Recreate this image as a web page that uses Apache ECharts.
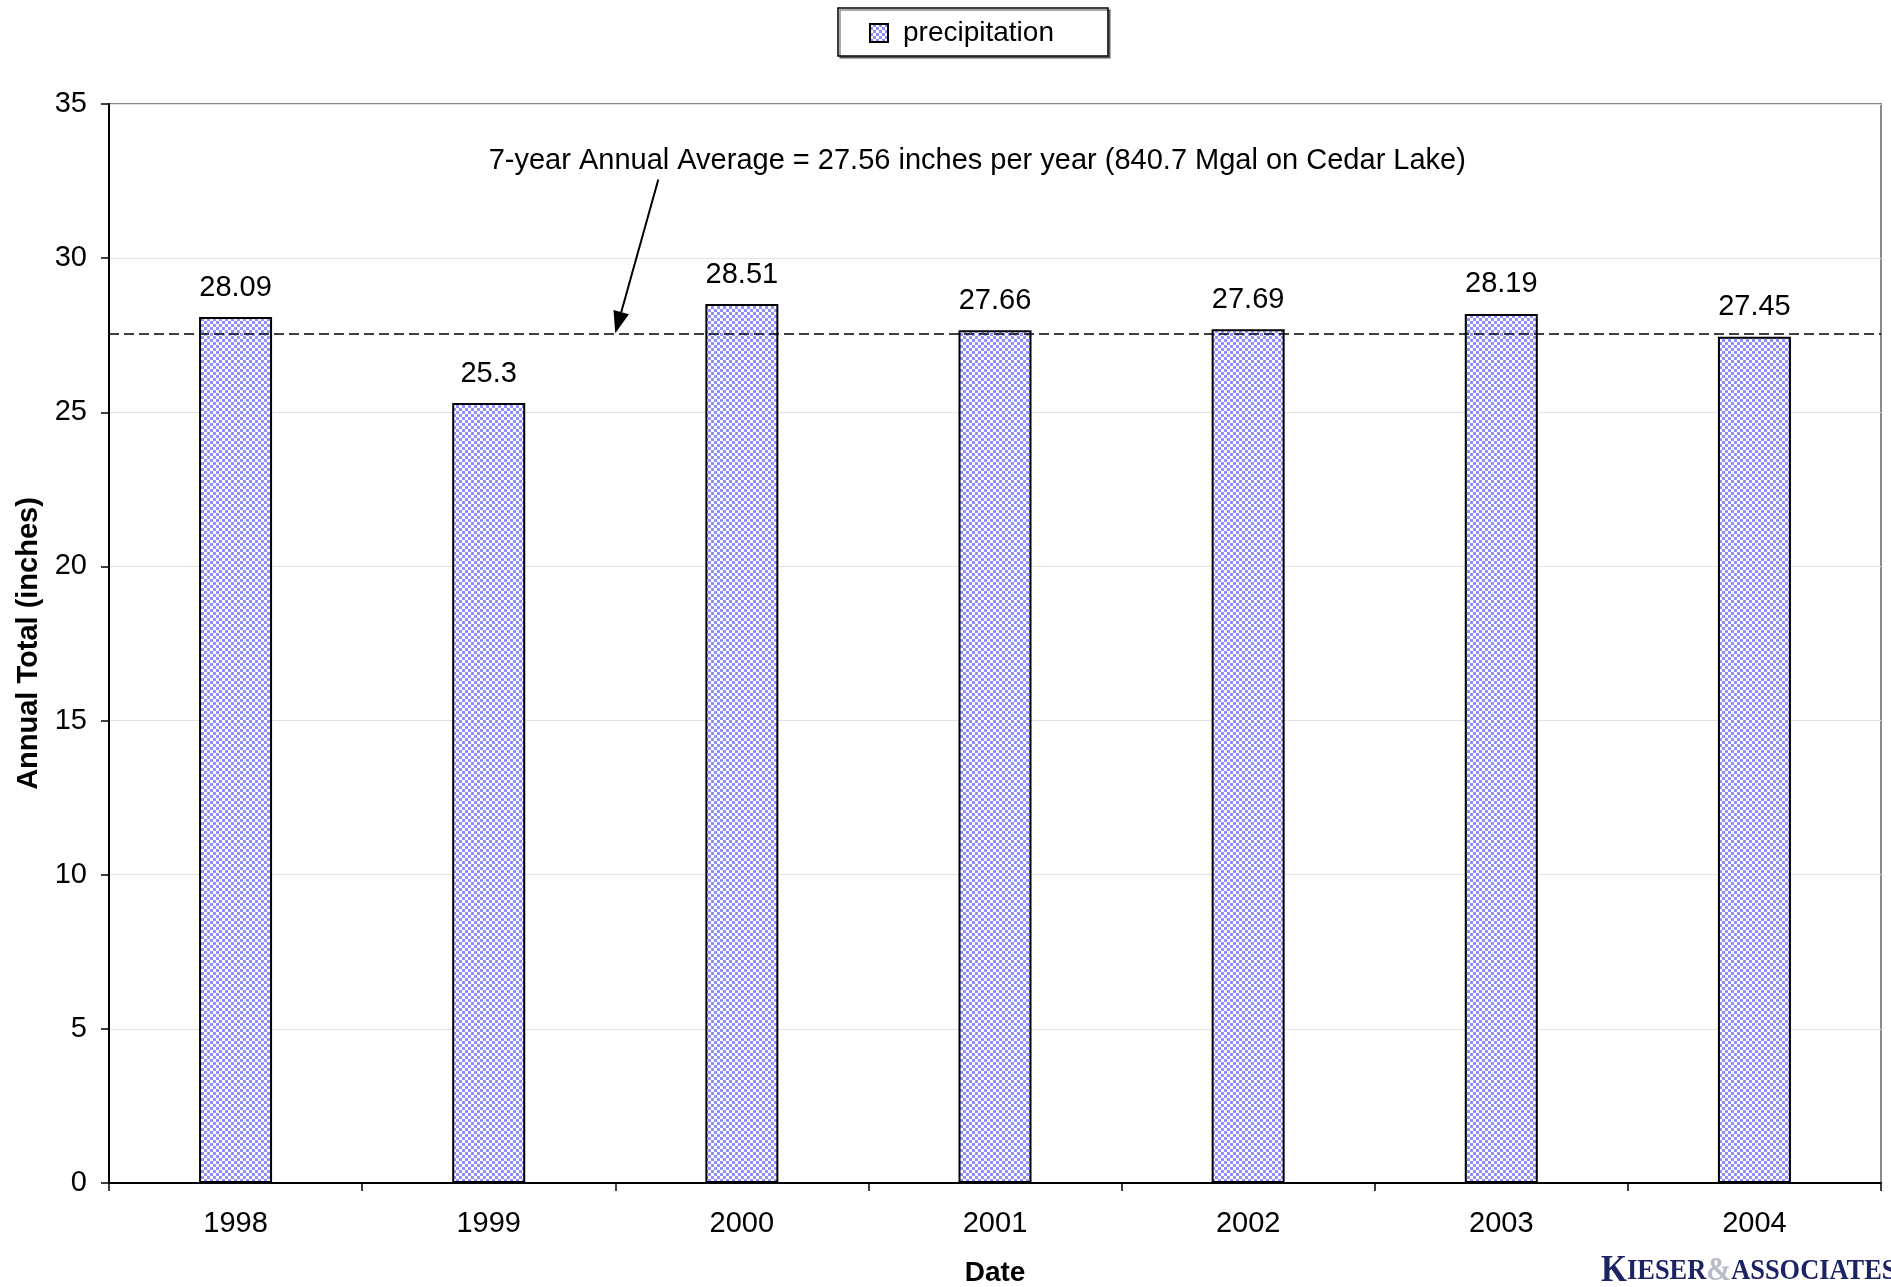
<!DOCTYPE html>
<html>
<head>
<meta charset="utf-8">
<title>Annual precipitation</title>
<script src="https://cdn.jsdelivr.net/npm/echarts@6/dist/echarts.min.js"></script>
<style>
  html, body { margin: 0; padding: 0; background: #fff; }
  #chart { width: 1891px; height: 1287px; }
</style>
</head>
<body>
<div id="chart"></div>
<script>
// Annual precipitation totals (inches)
const years = ['1998', '1999', '2000', '2001', '2002', '2003', '2004'];
const precipitation = [28.09, 25.3, 28.51, 27.66, 27.69, 28.19, 27.45];
const seriesName = 'precipitation';

// Multi-year average shown as a dashed reference line
const averageValue = 27.56;
const averageNote = '7-year Annual Average = 27.56 inches per year (840.7 Mgal on Cedar Lake)';

// Value axis ticks
const yMin = 0, yMax = 35, yStep = 5;

// Annotation anchors in data terms: [category index (fractional), value]
const noteAnchor = [2.93, 33.15];
const arrowStart = [1.67, 32.55];
const arrowTip = [1.5, averageValue];

const FONT = '"Liberation Sans", Arial, Helvetica, sans-serif';
const SERIF = '"Liberation Serif", "DejaVu Serif", serif';

// Checkered blue/white fill used for the bars
function makeChecker() {
  const c = document.createElement('canvas');
  c.width = 6; c.height = 6;
  const g = c.getContext('2d');
  g.fillStyle = '#8f8fff';
  g.fillRect(0, 0, 6, 6);
  g.fillStyle = '#ffffff';
  g.fillRect(0, 0, 3, 3);
  g.fillRect(3, 3, 3, 3);
  return c;
}
const checker = makeChecker();

const chart = echarts.init(document.getElementById('chart'), null, { renderer: 'canvas' });

const option = {
  animation: false,
  backgroundColor: '#ffffff',
  textStyle: { fontFamily: FONT },
  legend: {
    data: [seriesName],
    left: 838,
    top: 8,
    icon: 'rect',
    itemWidth: 18,
    itemHeight: 18,
    padding: [11, 54, 9, 31],
    backgroundColor: '#ffffff',
    borderColor: '#000000',
    borderWidth: 1.5,
    shadowColor: 'rgba(0,0,0,0.45)',
    shadowOffsetX: 2,
    shadowOffsetY: 2,
    shadowBlur: 0,
    selectedMode: false,
    textStyle: { fontSize: 28, color: '#000', fontFamily: FONT, padding: [2, 0, 0, 10] }
  },
  grid: {
    left: 109,
    right: 10,
    top: 104,
    bottom: 104,
    containLabel: false,
    outerBoundsMode: 'none',
    show: true,
    borderColor: '#8a8a8a',
    borderWidth: 2,
    backgroundColor: '#ffffff'
  },
  xAxis: {
    type: 'category',
    data: years,
    name: 'Date',
    nameLocation: 'middle',
    nameGap: 76,
    nameTextStyle: { fontSize: 28, fontWeight: 'bold', color: '#000', fontFamily: FONT },
    axisLine: { lineStyle: { color: '#000', width: 2 } },
    axisTick: { show: true, length: 8, lineStyle: { color: '#000', width: 1.5 } },
    axisLabel: { fontSize: 29, color: '#000', margin: 26, fontFamily: FONT },
    splitLine: { show: false }
  },
  yAxis: {
    type: 'value',
    min: yMin,
    max: yMax,
    interval: yStep,
    name: 'Annual Total (inches)',
    nameLocation: 'middle',
    nameGap: 66,
    nameTextStyle: { fontSize: 29, fontWeight: 'bold', color: '#000', fontFamily: FONT },
    axisLine: { show: true, lineStyle: { color: '#000', width: 2 } },
    axisTick: { show: true, length: 8, lineStyle: { color: '#000', width: 1.5 } },
    axisLabel: { fontSize: 29, color: '#000', margin: 22, fontFamily: FONT },
    splitLine: { show: true, lineStyle: { color: '#e2e2e2', width: 1 } }
  },
  series: [{
    name: seriesName,
    type: 'bar',
    data: precipitation,
    barWidth: 73,
    itemStyle: {
      color: { image: checker, repeat: 'repeat' },
      borderColor: '#000',
      borderWidth: 2
    },
    label: {
      show: true,
      position: 'top',
      distance: 15,
      fontSize: 29,
      lineHeight: 29,
      color: '#000',
      fontFamily: FONT
    },
    markLine: {
      silent: true,
      symbol: 'none',
      label: { show: false },
      lineStyle: { type: [10, 5], color: '#000', width: 1.5 },
      data: [{ yAxis: averageValue }]
    }
  }]
};

chart.setOption(option);

// Convert a [fractional category index, value] pair into pixels
function toPixel(pt) {
  const i0 = Math.floor(pt[0]);
  const frac = pt[0] - i0;
  const a = chart.convertToPixel({ gridIndex: 0 }, [i0, pt[1]]);
  const b = chart.convertToPixel({ gridIndex: 0 }, [i0 + 1, pt[1]]);
  return [a[0] + (b[0] - a[0]) * frac, a[1]];
}

const pNote = toPixel(noteAnchor);
const pStart = toPixel(arrowStart);
const pTip = toPixel(arrowTip);

// Arrowhead geometry
const dx = pTip[0] - pStart[0], dy = pTip[1] - pStart[1];
const len = Math.sqrt(dx * dx + dy * dy);
const ux = dx / len, uy = dy / len;
const headLen = 22, headHalf = 8;
const base = [pTip[0] - ux * headLen, pTip[1] - uy * headLen];
const nx = -uy, ny = ux;

chart.setOption({
  graphic: [
    {
      type: 'text',
      x: pNote[0],
      y: pNote[1],
      z: 100,
      style: {
        text: averageNote,
        font: '29px ' + FONT,
        fill: '#000',
        align: 'center',
        verticalAlign: 'middle'
      }
    },
    {
      type: 'line',
      z: 100,
      shape: { x1: pStart[0], y1: pStart[1], x2: base[0], y2: base[1] },
      style: { stroke: '#000', lineWidth: 2 }
    },
    {
      type: 'polygon',
      z: 100,
      shape: {
        points: [
          [pTip[0], pTip[1]],
          [base[0] + nx * headHalf, base[1] + ny * headHalf],
          [base[0] - nx * headHalf, base[1] - ny * headHalf]
        ]
      },
      style: { fill: '#000' }
    },
    {
      // company mark, bottom right corner
      type: 'text',
      x: 1601,
      y: 1290,
      z: 100,
      scaleX: 0.88,
      style: {
        text: '{k|K}{a|IESER}{b|&}{a|ASSOCIATES}',
        align: 'left',
        verticalAlign: 'bottom',
        rich: {
          k: { fontSize: 38, fontWeight: 'bold', fontFamily: SERIF, fill: '#1c2466', color: '#1c2466' },
          a: { fontSize: 30, fontWeight: 'bold', fontFamily: SERIF, fill: '#1c2466', color: '#1c2466' },
          b: { fontSize: 34, fontWeight: 'bold', fontFamily: SERIF, fill: '#b8bcc8', color: '#b8bcc8' }
        }
      }
    }
  ]
});
</script>
</body>
</html>
